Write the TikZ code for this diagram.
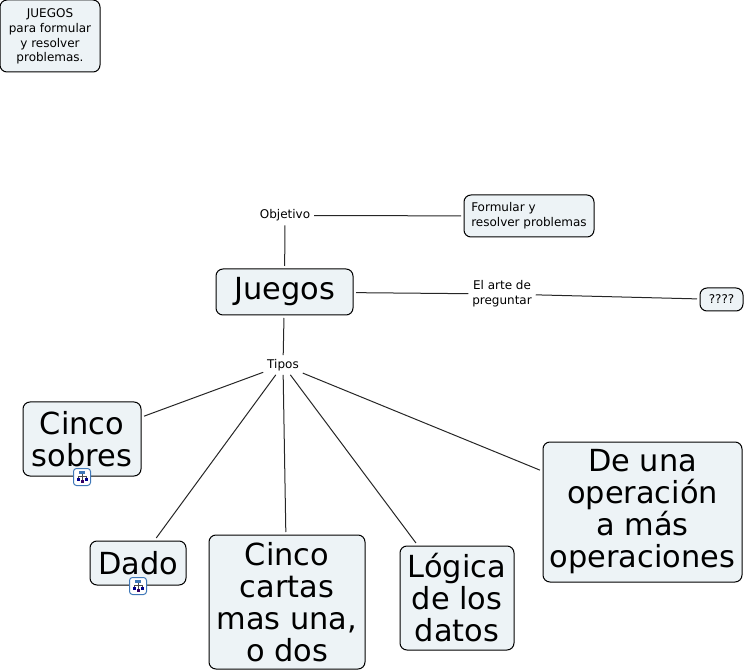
\documentclass[tikz,border=0pt]{standalone}
\usepackage{fontspec}
\setmainfont{DejaVu Sans}
\usetikzlibrary{positioning}
\definecolor{boxfill}{HTML}{EDF3F6}
\definecolor{iconblue}{HTML}{3F78B8}
\tikzset{
  concept/.style={draw=black, fill=boxfill, rounded corners=7pt, line width=1pt, align=center, inner sep=0pt, outer sep=3pt},
  small/.style={concept, font=\fontsize{12}{14.8}\selectfont},
  big/.style={concept, font=\fontsize{30.4}{32}\selectfont},
  linkphrase/.style={align=center, inner sep=1pt, outer sep=3pt, font=\fontsize{12}{14.8}\selectfont},
  link/.style={line width=1pt, draw=black!85},
  mapicon/.style={draw=iconblue, fill=white, rounded corners=3pt, line width=1pt, minimum width=17pt, minimum height=17pt, inner sep=0pt},
  iconpart/.style={line width=0.5pt, draw=black!70}
}
\newcommand{\mapglyph}[1]{%
  \draw[iconpart] (#1) ++(0,-3) -- ++(0,7) (#1) ++(-4,-1) -- ++(8,0) (#1) ++(-4,-1) -- ++(0,2) (#1) ++(4,-1) -- ++(0,2);
  \fill[iconblue] (#1) ++(-3,-6.5) rectangle ++(6,3.5);
  \fill[blue!55!black] (#1) ++(-5.5,0.5) rectangle ++(3,3);
  \fill[blue!55!black] (#1) ++(2.5,0.5) rectangle ++(3,3);
  \fill[red!35!blue!60!black] (#1) ++(-1.5,3) rectangle ++(3,3);
}
\begin{document}
\begin{tikzpicture}[x=1pt,y=-1pt]
  \useasboundingbox (0,0) rectangle (748,671);
  \node[small, minimum width=100pt, minimum height=72pt, text depth=1.5pt] (title) at (50,36) {JUEGOS\\para formular\\y resolver\\problemas.};
  \node[big, minimum width=137pt, minimum height=46pt] (juegos) at (284.5,292) {Juegos};
  \node[linkphrase] (objetivo) at (285,215.5) {Objetivo};
  \node[small, align=left, minimum width=130pt, minimum height=42pt] (formular) at (529,216) {Formular y\\resolver problemas};
  \node[linkphrase] (arte) at (502,294) {El arte de\\preguntar};
  \node[small, minimum width=43pt, minimum height=23pt] (preguntas) at (721.5,299.5) {????};
  \node[linkphrase] (tipos) at (283,365) {Tipos};
  \node[big, minimum width=118pt, minimum height=74pt] (sobres) at (82,439) {Cinco\\sobres};
  \node[big, minimum width=96pt, minimum height=44pt] (dado) at (138,563) {Dado};
  \node[big, minimum width=156pt, minimum height=134pt] (cartas) at (287,602) {Cinco\\cartas\\mas una,\\o dos};
  \node[big, minimum width=114pt, minimum height=104pt] (logica) at (457,598) {Lógica\\de los\\datos};
  \node[big, minimum width=199pt, minimum height=140pt] (operacion) at (642.5,512) {De una\\operación\\a más\\operaciones};
  \node[mapicon] (iconsobres) at (82,477) {};
  \node[mapicon] (icondado) at (138,586) {};
  \mapglyph{iconsobres}
  \mapglyph{icondado}
  \draw[link] (objetivo) -- (juegos);
  \draw[link] (objetivo) -- (formular);
  \draw[link] (juegos) -- (arte);
  \draw[link] (arte) -- (preguntas);
  \draw[link] (juegos) -- (tipos);
  \foreach \target in {sobres,dado,cartas,logica,operacion} {\draw[link] (tipos) -- (\target);}
\end{tikzpicture}
\end{document}
